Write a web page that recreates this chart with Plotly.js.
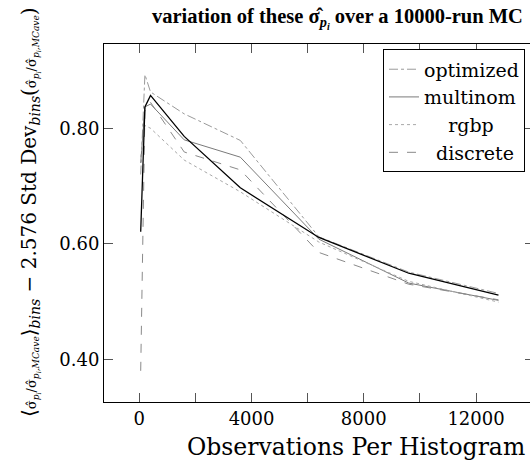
<!DOCTYPE html>
<html>
<head>
<meta charset="utf-8">
<script src="https://cdn.plot.ly/plotly-3.0.1.min.js"></script>
<style>html,body{margin:0;padding:0;background:#fff;overflow:hidden;}#chart{width:534px;height:460px;}</style>
</head>
<body>
<div id="chart"></div>
<script>
// Observations per histogram (x positions of the points)
const obsPerHist = [50, 200, 400, 1600, 3600, 6400, 9600, 12800];
// Series values
const blackSeries = [0.621, 0.837, 0.857, 0.786, 0.697, 0.611, 0.549, 0.511];
const optimized   = [0.720, 0.893, 0.863, 0.825, 0.779, 0.612, 0.551, 0.514];
const multinom    = [0.740, 0.837, 0.842, 0.780, 0.750, 0.608, 0.532, 0.502];
const rgbp        = [0.750, 0.805, 0.800, 0.745, 0.690, 0.603, 0.535, 0.499];
const discrete    = [0.380, 0.830, 0.845, 0.759, 0.728, 0.585, 0.530, 0.503];
const seriesNames = ['optimized', 'multinom', '\u00a0\u00a0\u00a0\u00a0rgbp', '\u00a0\u00a0discrete'];
const xTickVals = [0, 4000, 8000, 12000];
const xTickText = ['0', '4000', '8000', '12000'];
const yTickVals = [0.4, 0.6, 0.8];
const yTickText = ['0.40', '0.60', '0.80'];

const serif = 'DejaVu Serif, Liberation Serif, serif';
const times = 'Liberation Serif, DejaVu Serif, serif';

const traces = [
  {x: obsPerHist, y: optimized, name: seriesNames[0], mode: 'lines',
   line: {color: '#9a9a9a', width: 1, dash: 'dashdot'}},
  {x: obsPerHist, y: multinom, name: seriesNames[1], mode: 'lines',
   line: {color: '#7a7a7a', width: 1, dash: 'solid'}},
  {x: obsPerHist, y: rgbp, name: seriesNames[2], mode: 'lines',
   line: {color: '#a8a8a8', width: 1, dash: 'dot'}},
  {x: obsPerHist, y: discrete, name: seriesNames[3], mode: 'lines',
   line: {color: '#8a8a8a', width: 1, dash: 'dash'}},
  {x: obsPerHist, y: blackSeries, name: 'combined', mode: 'lines', showlegend: false,
   line: {color: '#000000', width: 1.3}}
];

const frac = '<span style="font-size:13px">σ̂<sub><i>p<sub>i</sub></i></sub>/σ̂<sub><i>p<sub>i</sub>,MCave</i></sub></span>';

const layout = {
  width: 534, height: 460,
  margin: {l: 104, r: 0, t: 44, b: 58, pad: 0},
  paper_bgcolor: '#fff', plot_bgcolor: '#fff',
  font: {family: serif, size: 18, color: '#000'},
  title: {
    text: '<b>variation of these σ̂<sub><i>p<sub>i</sub></i></sub> over a 10000-run MC</b>',
    font: {family: times, size: 20.5, color: '#000'},
    xref: 'container', x: 152 / 534, xanchor: 'left',
    yref: 'container', y: 1 - 16 / 460, yanchor: 'middle'
  },
  xaxis: {
    range: [-1258, 14066],
    tickvals: xTickVals, ticktext: xTickText,
    ticks: 'inside', ticklen: 9, tickcolor: '#555', tickwidth: 1,
    minor: {dtick: 2000, tick0: 0, ticks: 'inside', ticklen: 9, tickcolor: '#555', showgrid: false},
    showline: true, linecolor: '#000', linewidth: 1, mirror: 'ticks',
    showgrid: false, zeroline: false,
    tickfont: {family: serif, size: 18}
  },
  yaxis: {
    range: [0.326, 0.946],
    tickvals: yTickVals, ticktext: yTickText,
    ticks: 'inside', ticklen: 9, tickcolor: '#555', tickwidth: 1,
    showline: true, linecolor: '#000', linewidth: 1, mirror: 'ticks',
    showgrid: false, zeroline: false,
    tickfont: {family: serif, size: 18}
  },
  legend: {
    x: (525 - 104) / 430, xanchor: 'right', y: 0.985, yanchor: 'top',
    bgcolor: '#fff', bordercolor: '#000', borderwidth: 1,
    font: {family: serif, size: 19},
    tracegroupgap: 0, itemwidth: 30
  },
  annotations: [{
    xref: 'paper', yref: 'paper',
    x: (356 - 104) / 430, y: 0, yshift: -45,
    xanchor: 'center', yanchor: 'middle', showarrow: false,
    font: {family: serif, size: 23.5, color: '#000'},
    text: 'Observations Per Histogram'
  }, {
    xref: 'paper', yref: 'paper',
    x: (30 - 104) / 430, y: (402 - 212) / 358, xanchor: 'center', yanchor: 'middle',
    textangle: -90, showarrow: false,
    font: {family: serif, size: 20, color: '#000'},
    text: '⟨' + frac + '⟩<sub><i>bins</i></sub> − 2.576 Std Dev<sub><i>bins</i></sub>(' + frac + ')'
  }]
};

Plotly.newPlot('chart', traces, layout, {displayModeBar: false, staticPlot: true});
</script>
</body>
</html>
